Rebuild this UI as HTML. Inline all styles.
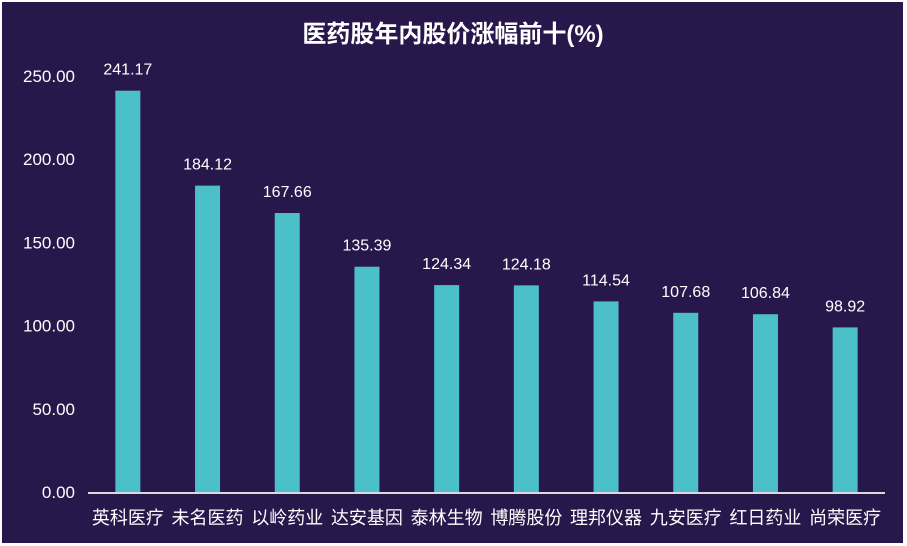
<!DOCTYPE html>
<html><head><meta charset="utf-8"><style>
html,body{margin:0;padding:0;background:#fff;}
body{width:907px;height:546px;overflow:hidden;}
svg{display:block;}
text{font-family:"Liberation Sans","Noto Sans CJK SC",sans-serif;fill:#fff;}
</style></head><body>
<svg id="chart" width="907" height="546">
<rect x="2" y="2" width="901" height="541" fill="#28174a"/>
<text x="453" y="42" text-anchor="middle" font-size="24" font-weight="bold">医药股年内股价涨幅前十(%)</text>
<g id="yaxis"></g><g id="bars"></g><g id="xaxis"></g>
</svg>
<script>
const categories=["英科医疗","未名医药","以岭药业","达安基因","泰林生物","博腾股份","理邦仪器","九安医疗","红日药业","尚荣医疗"];
const values=[241.17,184.12,167.66,135.39,124.34,124.18,114.54,107.68,106.84,98.92];
const yTicks=[0,50,100,150,200,250];
const ns="http://www.w3.org/2000/svg";
const x0=88,x1=885,y0=492,y1=76,ymax=250;
const band=(x1-x0)/categories.length;
const yScale=v=>y0-(v/ymax)*(y0-y1);
const xCenter=i=>x0+band*(i+0.5);
function mk(tag,attrs,parent,txt){const e=document.createElementNS(ns,tag);for(const k in attrs)e.setAttribute(k,attrs[k]);if(txt!=null)e.textContent=txt;parent.appendChild(e);return e;}
const ya=document.getElementById('yaxis'),bg=document.getElementById('bars'),xa=document.getElementById('xaxis');
yTicks.forEach(t=>{const e=mk('text',{x:75,y:yScale(t)+6,'text-anchor':'end','font-size':17},ya,t.toFixed(2));

});
values.forEach((v,i)=>{const cx=xCenter(i);
const r=mk('rect',{x:cx-12.5,y:yScale(v),width:25,height:y0-yScale(v),fill:'#4bc0c8'},bg);


const l=mk('text',{x:cx,y:yScale(v)-16,'text-anchor':'middle','font-size':16},bg,v.toFixed(2));


const c=mk('text',{x:cx,y:524,'text-anchor':'middle','font-size':18},xa,categories[i]);

});
const ax=mk('line',{x1:x0,x2:x1,y1:y0+1,y2:y0+1,stroke:'#d9d9d9','stroke-width':2},xa);


</script>
</body></html>
